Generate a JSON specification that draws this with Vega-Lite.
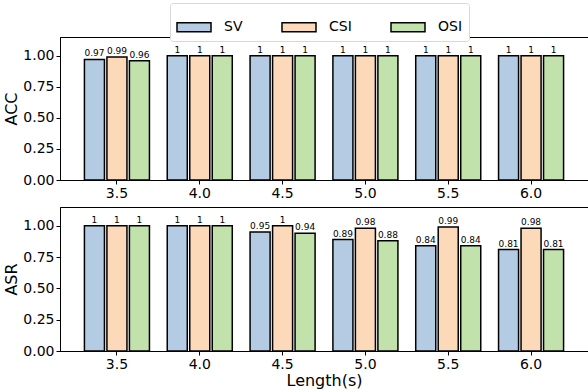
{
  "$schema": "https://vega.github.io/schema/vega-lite/v6.json",
  "padding": {"top": 2, "left": 3, "right": 1, "bottom": 5},
  "data": {"values": [
    {"metric": "ACC", "length": "3.5", "method": "SV", "value": 0.97},
    {"metric": "ACC", "length": "3.5", "method": "CSI", "value": 0.99},
    {"metric": "ACC", "length": "3.5", "method": "OSI", "value": 0.96},
    {"metric": "ACC", "length": "4.0", "method": "SV", "value": 1},
    {"metric": "ACC", "length": "4.0", "method": "CSI", "value": 1},
    {"metric": "ACC", "length": "4.0", "method": "OSI", "value": 1},
    {"metric": "ACC", "length": "4.5", "method": "SV", "value": 1},
    {"metric": "ACC", "length": "4.5", "method": "CSI", "value": 1},
    {"metric": "ACC", "length": "4.5", "method": "OSI", "value": 1},
    {"metric": "ACC", "length": "5.0", "method": "SV", "value": 1},
    {"metric": "ACC", "length": "5.0", "method": "CSI", "value": 1},
    {"metric": "ACC", "length": "5.0", "method": "OSI", "value": 1},
    {"metric": "ACC", "length": "5.5", "method": "SV", "value": 1},
    {"metric": "ACC", "length": "5.5", "method": "CSI", "value": 1},
    {"metric": "ACC", "length": "5.5", "method": "OSI", "value": 1},
    {"metric": "ACC", "length": "6.0", "method": "SV", "value": 1},
    {"metric": "ACC", "length": "6.0", "method": "CSI", "value": 1},
    {"metric": "ACC", "length": "6.0", "method": "OSI", "value": 1},
    {"metric": "ASR", "length": "3.5", "method": "SV", "value": 1},
    {"metric": "ASR", "length": "3.5", "method": "CSI", "value": 1},
    {"metric": "ASR", "length": "3.5", "method": "OSI", "value": 1},
    {"metric": "ASR", "length": "4.0", "method": "SV", "value": 1},
    {"metric": "ASR", "length": "4.0", "method": "CSI", "value": 1},
    {"metric": "ASR", "length": "4.0", "method": "OSI", "value": 1},
    {"metric": "ASR", "length": "4.5", "method": "SV", "value": 0.95},
    {"metric": "ASR", "length": "4.5", "method": "CSI", "value": 1},
    {"metric": "ASR", "length": "4.5", "method": "OSI", "value": 0.94},
    {"metric": "ASR", "length": "5.0", "method": "SV", "value": 0.89},
    {"metric": "ASR", "length": "5.0", "method": "CSI", "value": 0.98},
    {"metric": "ASR", "length": "5.0", "method": "OSI", "value": 0.88},
    {"metric": "ASR", "length": "5.5", "method": "SV", "value": 0.84},
    {"metric": "ASR", "length": "5.5", "method": "CSI", "value": 0.99},
    {"metric": "ASR", "length": "5.5", "method": "OSI", "value": 0.84},
    {"metric": "ASR", "length": "6.0", "method": "SV", "value": 0.81},
    {"metric": "ASR", "length": "6.0", "method": "CSI", "value": 0.98},
    {"metric": "ASR", "length": "6.0", "method": "OSI", "value": 0.81}
  ]},
  "spacing": 5,
  "vconcat": [
    {
      "width": 528, "height": 143,
      "transform": [{"filter": "datum.metric === 'ACC'"}],
      "encoding": {
        "x": {"field": "length", "type": "nominal", "sort": null,
              "scale": {"paddingInner": 0.185, "paddingOuter": 0.28},
              "axis": {"title": null, "labelAngle": 0}},
        "xOffset": {"field": "method", "type": "nominal", "sort": ["SV", "CSI", "OSI"],
                    "scale": {"paddingInner": 0.11, "paddingOuter": 0.055}},
        "y": {"field": "value", "type": "quantitative",
              "scale": {"domain": [0, 1.15], "nice": false, "zero": true},
              "axis": {"title": "ACC", "values": [0, 0.25, 0.5, 0.75, 1], "format": ".2f"}}
      },
      "layer": [
        {"mark": {"type": "bar", "stroke": "black", "strokeWidth": 1.5, "opacity": 1},
         "encoding": {"color": {"field": "method", "type": "nominal", "sort": ["SV", "CSI", "OSI"],
            "scale": {"domain": ["SV", "CSI", "OSI"], "range": ["#b4cbe4", "#fbd9b9", "#c1e2aa"]},
            "legend": {"title": null}}}},
        {"mark": {"type": "text", "baseline": "bottom", "dy": -1, "fontSize": 9, "color": "black"},
         "encoding": {"text": {"field": "value", "type": "quantitative", "format": "~g"}}}
      ]
    },
    {
      "width": 528, "height": 144,
      "transform": [{"filter": "datum.metric === 'ASR'"}],
      "encoding": {
        "x": {"field": "length", "type": "nominal", "sort": null,
              "scale": {"paddingInner": 0.185, "paddingOuter": 0.28},
              "axis": {"title": "Length(s)", "labelAngle": 0}},
        "xOffset": {"field": "method", "type": "nominal", "sort": ["SV", "CSI", "OSI"],
                    "scale": {"paddingInner": 0.11, "paddingOuter": 0.055}},
        "y": {"field": "value", "type": "quantitative",
              "scale": {"domain": [0, 1.15], "nice": false, "zero": true},
              "axis": {"title": "ASR", "values": [0, 0.25, 0.5, 0.75, 1], "format": ".2f"}}
      },
      "layer": [
        {"mark": {"type": "bar", "stroke": "black", "strokeWidth": 1.5, "opacity": 1},
         "encoding": {"color": {"field": "method", "type": "nominal", "sort": ["SV", "CSI", "OSI"],
            "scale": {"domain": ["SV", "CSI", "OSI"], "range": ["#b4cbe4", "#fbd9b9", "#c1e2aa"]},
            "legend": {"title": null}}}},
        {"mark": {"type": "text", "baseline": "bottom", "dy": -1, "fontSize": 9, "color": "black"},
         "encoding": {"text": {"field": "value", "type": "quantitative", "format": "~g"}}}
      ]
    }
  ],
  "config": {
    "font": "DejaVu Sans",
    "view": {"stroke": "black", "strokeWidth": 1},
    "axis": {"grid": false, "labelFontSize": 14, "titleFontSize": 16, "titleFontWeight": "normal",
             "labelColor": "black", "titleColor": "black", "tickColor": "black", "domainColor": "black",
             "tickSize": 4, "labelPadding": 2, "titlePadding": 3, "labelFont": "DejaVu Sans", "titleFont": "DejaVu Sans"},
    "axisX": {"titlePadding": 1},
    "legend": {"orient": "none", "legendX": 110, "legendY": -34, "direction": "horizontal",
               "symbolType": "M-1,-0.26H1V0.26H-1Z", "symbolSize": 1156, "symbolStrokeColor": "black",
               "symbolStrokeWidth": 1.5, "symbolOpacity": 1, "labelFontSize": 14, "labelFont": "DejaVu Sans",
               "labelColor": "black", "labelOffset": 12, "columnPadding": 36, "strokeColor": "#d8d8d8",
               "fillColor": "white", "cornerRadius": 3, "padding": 6}
  }
}
